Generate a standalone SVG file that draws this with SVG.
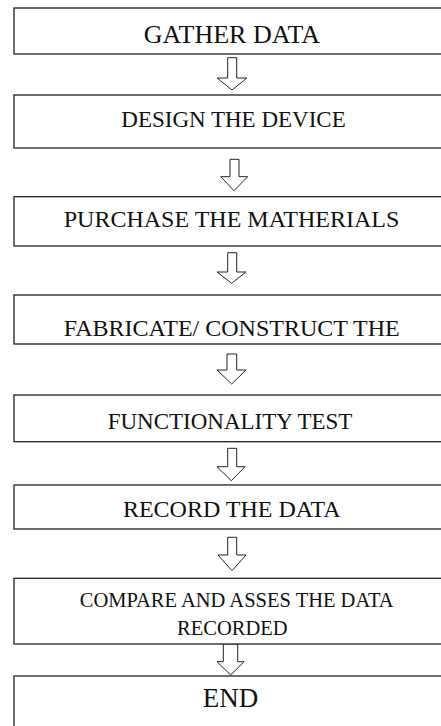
<svg xmlns="http://www.w3.org/2000/svg" width="441" height="726" viewBox="0 0 441 726">
<style>
.box{fill:#fff;stroke:#222;stroke-width:1.3}
.arr{fill:#fff;stroke:#222;stroke-width:1;stroke-linejoin:miter}
.t{font-family:'Liberation Serif','Times New Roman',Times,serif;fill:#111;text-anchor:middle}
</style>
<rect width="441" height="726" fill="#fff"/>
<g id="connectors">
<path class="arr" d="M227.7,57.7 H236.7 V78 H247 L232,90 L217,78 H227.7 Z"/>
<path class="arr" d="M230,159.3 H239 V176.7 H247.7 L234,190.7 L220.7,176.7 H230 Z"/>
<path class="arr" d="M227.7,252.7 H236.7 V272 H246 L231.7,283.3 L217,272 H227.7 Z"/>
<path class="arr" d="M227,354 H236.7 V370 H246 L231.7,384 L217,370 H227 Z"/>
<path class="arr" d="M227.7,448.3 H236.7 V466.7 H245 L231.3,480.7 L217,466.7 H227.7 Z"/>
<path class="arr" d="M227.7,537.3 H236.7 V555 H246 L232,570.7 L218,555 H227.7 Z"/>
<path class="arr" d="M223.3,644 H237.7 V661.7 H244 L230.7,675 L217,661.7 H223.3 Z"/>
</g>
<g id="n1"><rect class="box" x="14" y="8" width="440" height="46"/><text class="t" font-family="Liberation Serif, serif" x="232" y="43.3" font-size="26">GATHER DATA</text></g>
<g id="n2"><rect class="box" x="14" y="95" width="440" height="53"/><text class="t" font-family="Liberation Serif, serif" x="233.5" y="127" font-size="23">DESIGN THE DEVICE</text></g>
<g id="n3"><rect class="box" x="14" y="196.7" width="440" height="49.3"/><text class="t" font-family="Liberation Serif, serif" x="231.5" y="227.3" font-size="24">PURCHASE THE MATHERIALS</text></g>
<g id="n4"><rect class="box" x="14" y="295" width="440" height="49"/><text class="t" font-family="Liberation Serif, serif" x="231.7" y="335.5" font-size="24">FABRICATE/ CONSTRUCT THE</text></g>
<g id="n5"><rect class="box" x="14" y="395" width="440" height="46.7"/><text class="t" font-family="Liberation Serif, serif" x="230" y="428.5" font-size="23">FUNCTIONALITY TEST</text></g>
<g id="n6"><rect class="box" x="14" y="485" width="440" height="44"/><text class="t" font-family="Liberation Serif, serif" x="231.7" y="517.3" font-size="24">RECORD THE DATA</text></g>
<g id="n7"><rect class="box" x="14" y="578.3" width="440" height="65.7"/><text class="t" font-family="Liberation Serif, serif" x="236.7" y="607.3" font-size="20.5">COMPARE AND ASSES THE DATA</text><text class="t" font-family="Liberation Serif, serif" x="232.3" y="635" font-size="20.5">RECORDED</text></g>
<g id="n8"><rect class="box" x="14" y="676" width="440" height="80"/><text class="t" font-family="Liberation Serif, serif" x="230.5" y="706.7" font-size="27">END</text></g>
</svg>
